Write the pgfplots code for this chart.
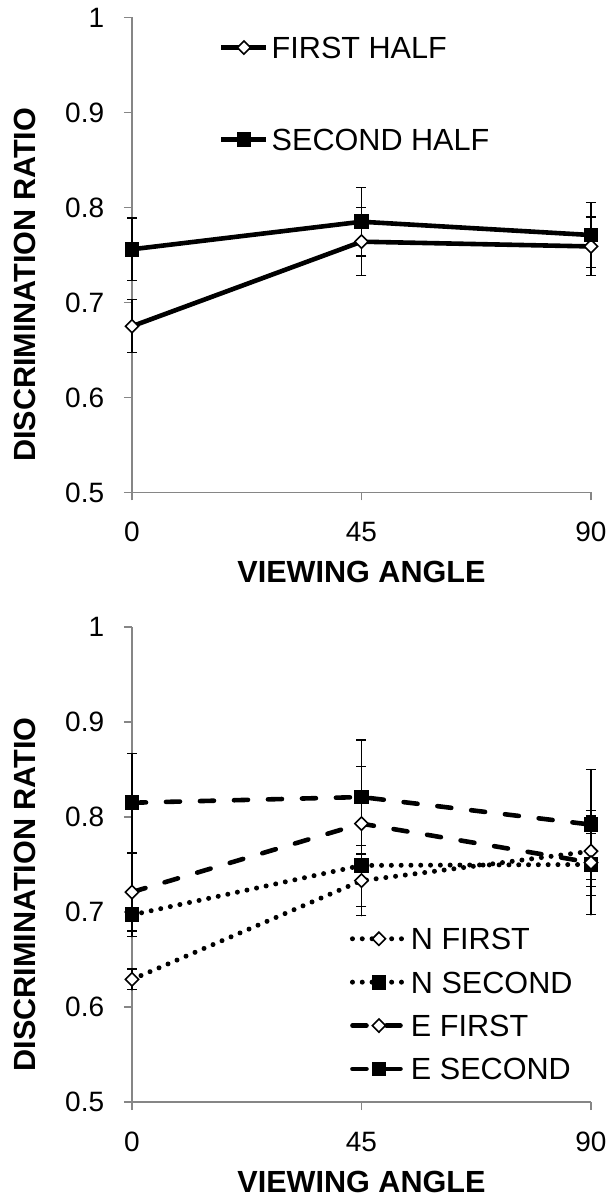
\documentclass[border=0pt]{standalone}
\usepackage{fontspec}
\setmainfont{Liberation Sans}
\usepackage{pgfplots}
\pgfplotsset{compat=1.18}
\definecolor{axisgray}{RGB}{134,134,134}

\pgfplotsset{
  angle axis/.style={
    scale only axis, width=229.5pt, height=237.5pt,
    xmin=0, xmax=90, ymin=0.5, ymax=1, clip=false,
    axis x line=bottom, axis y line=left,
    axis line style={-, draw=axisgray, line width=0.7pt},
    xtick={0,45,90}, xticklabels={0,45,90},
    ytick={0.5,0.6,0.7,0.8,0.9,1}, yticklabels={0.5,0.6,0.7,0.8,0.9,1},
    tick align=outside, major tick length=4pt,
    tick style={draw=axisgray, line width=0.7pt},
    tick label style={font=\fontsize{14}{14}\selectfont},
    xticklabel style={yshift=-7.4pt},
    yticklabel style={xshift=-6.4pt},
    xlabel={\bfseries VIEWING ANGLE},
    ylabel={\bfseries DISCRIMINATION RATIO},
    label style={font=\fontsize{15.3}{15.3}\selectfont},
    xlabel style={at={(axis description cs:0.5,-0.168)}, anchor=center},
    ylabel style={at={(axis description cs:-0.233,0.437)}, anchor=center},
    legend cell align=left,
    legend style={draw=none, fill=none, inner sep=0pt,
      font=\fontsize{15.3}{15.3}\selectfont,
      nodes={inner sep=1.5pt, text height=11pt, text depth=0pt}},
  },
  errs/.style={error bars/.cd, y dir=both, y explicit,
    error bar style={line width=0.6pt, solid, black},
    error mark options={rotate=90, mark size=2.5pt, line width=0.6pt, solid, black}},
  dmark/.style={mark=diamond*, mark options={solid, fill=white, draw=black, line width=0.8pt, mark size=3.3pt, xscale=1.33}},
  smark/.style={mark=square*, mark options={solid, fill=black, draw=black, line width=0.6pt, mark size=3.4pt}},
  dotline/.style={black, line width=2.5pt, line cap=round, dash pattern=on 0pt off 4.9pt},
  dashline/.style={black, line width=2.3pt, line cap=round, dash pattern=on 7pt off 10pt},
}

\begin{document}
\begin{tikzpicture}
\useasboundingbox (0,0) rectangle (307.5pt,599pt);

% top: halves
\begin{axis}[angle axis, at={(66pt,352.75pt)}, anchor=south west,
  legend style={at={(axis description cs:0.189,0.967)}, anchor=north west, row sep=32pt},
  legend image code/.code={\draw[mark repeat=2,mark phase=2,#1] plot coordinates {(0pt,0pt) (11.25pt,0pt) (22.5pt,0pt)};}]
  \addplot[black, line width=2.3pt, dmark, errs] coordinates {
    (0,0.675) +- (0,0.028)
    (45,0.764) +- (0,0.036)
    (90,0.759) +- (0,0.031)};
  \addlegendentry{FIRST HALF}
  \addplot[black, line width=2.3pt, smark, errs] coordinates {
    (0,0.756) +- (0,0.033)
    (45,0.785) +- (0,0.036)
    (90,0.771) +- (0,0.034)};
  \addlegendentry{SECOND HALF}
\end{axis}

% bottom: N / E groups
\begin{axis}[angle axis, at={(66pt,48pt)}, anchor=south west,
  legend style={at={(axis description cs:0.474,0.374)}, anchor=north west, row sep=7.7pt},
  legend image code/.code={\draw[mark repeat=2,mark phase=2,#1] plot coordinates {(0pt,0pt) (13.25pt,0pt) (26.5pt,0pt)};}]
  \addplot[dotline, dmark, errs] coordinates {
    (0,0.629) +- (0,0.011)
    (45,0.733) +- (0,0.037)
    (90,0.764) +- (0,0.037)};
  \addlegendentry{N FIRST}
  \addplot[dotline, smark, errs] coordinates {
    (0,0.697) +- (0,0.023)
    (45,0.749) +- (0,0.043)
    (90,0.750) +- (0,0.033)};
  \addlegendentry{N SECOND}
  \addplot[dashline, dmark, errs] coordinates {
    (0,0.721) +- (0,0.041)
    (45,0.793) +- (0,0.060)
    (90,0.752) +- (0,0.055)};
  \addlegendentry{E FIRST}
  \addplot[dashline, smark, errs] coordinates {
    (0,0.815) +- (0,0.052)
    (45,0.821) +- (0,0.060)
    (90,0.792) +- (0,0.058)};
  \addlegendentry{E SECOND}
\end{axis}
\end{tikzpicture}
\end{document}
